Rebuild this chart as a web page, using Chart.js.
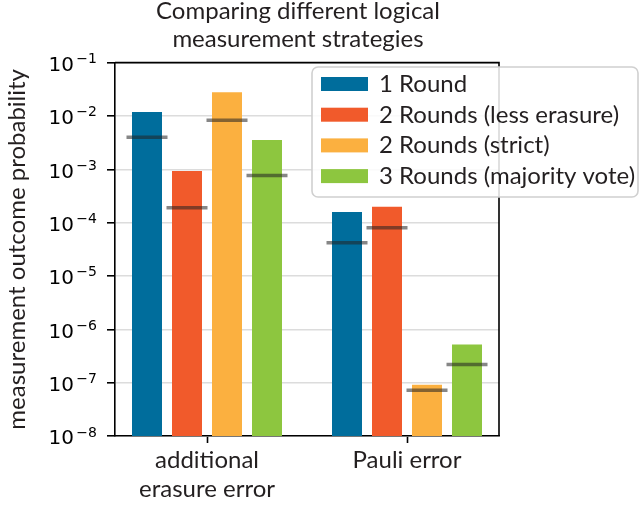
<!DOCTYPE html>
<html>
<head>
<meta charset="utf-8">
<script src="https://cdn.jsdelivr.net/npm/chart.js@4.4.1/dist/chart.umd.min.js"></script>
<style>
  html, body { margin: 0; padding: 0; background: #ffffff; }
  #wrap { width: 640px; height: 506px; }
</style>
</head>
<body>
<div id="wrap"><canvas id="c" width="640" height="506"></canvas></div>
<script>
// ---------------- data ----------------
const categories = [['additional', 'erasure error'], 'Pauli error'];
const seriesLabels = ['1 Round', '2 Rounds (less erasure)', '2 Rounds (strict)', '3 Rounds (majority vote)'];
const seriesColors = ['#006D9C', '#F15A2B', '#FBB040', '#8DC63F'];

// bar heights (measurement outcome probability)
const oneRound        = [1.19e-2, 1.59e-4];
const twoRoundsLess   = [9.3e-4, 1.98e-4];
const twoRoundsStrict = [2.8e-2, 9.1e-8];
const threeRounds     = [3.55e-3, 5.2e-7];

// grey horizontal reference markers
const oneRoundRef        = [4.0e-3, 4.2e-5];
const twoRoundsLessRef   = [1.9e-4, 8.0e-5];
const twoRoundsStrictRef = [8.3e-3, 7.2e-8];
const threeRoundsRef     = [7.7e-4, 2.2e-7];

const yTickExponents = [-8, -7, -6, -5, -4, -3, -2, -1];
const titleLines = ['Comparing different logical', 'measurement strategies'];
const yTitle = 'measurement outcome probability';

// ---------------- helpers ----------------
const seriesValues = [oneRound, twoRoundsLess, twoRoundsStrict, threeRounds];
const seriesRefs = [oneRoundRef, twoRoundsLessRef, twoRoundsStrictRef, threeRoundsRef];
const TEXT_FONT = 'Lato, "Open Sans", sans-serif';
const TEXT_COLOR = '#231F20';
const expText = e => (e < 0 ? '\u2212' : '') + Math.abs(e);

const markerPlugin = {
  id: 'refMarkers',
  afterDatasetsDraw(chart) {
    const ys = chart.scales.y, ctx = chart.ctx;
    ctx.save();
    ctx.strokeStyle = 'rgba(35,35,35,0.55)';
    ctx.lineWidth = 3.5;
    chart.data.datasets.forEach((ds, d) => {
      const meta = chart.getDatasetMeta(d);
      meta.data.forEach((bar, i) => {
        const y = ys.getPixelForValue(ds.refValues[i]);
        const half = bar.width / 2 + 5.5;
        ctx.beginPath();
        ctx.moveTo(bar.x - half, y);
        ctx.lineTo(bar.x + half, y);
        ctx.stroke();
      });
    });
    ctx.restore();
  }
};

// y tick labels as 10 with a raised exponent (mathtext style)
const logLabelPlugin = {
  id: 'logLabels',
  afterDraw(chart) {
    const ys = chart.scales.y, ctx = chart.ctx;
    const xr = ys.right - 18;
    ctx.save();
    ctx.fillStyle = '#000';
    ctx.textAlign = 'right';
    ctx.textBaseline = 'alphabetic';
    ys.ticks.forEach(t => {
      const e = Math.round(Math.log10(t.value));
      const y = ys.getPixelForValue(t.value);
      ctx.font = '14px "DejaVu Sans"';
      const ex = expText(e);
      const w = ctx.measureText(ex).width;
      ctx.fillText(ex, xr, y + 0.5);
      ctx.font = '20px "DejaVu Sans"';
      ctx.fillText('10', xr - w - 2.5, y + 8.2);
    });
    ctx.restore();
  }
};

const framePlugin = {
  id: 'frameAndLegend',
  afterLayout(chart) {
    const t = chart.titleBlock;
    if (t) { const w = t.right - t.left; const c = 298; t.left = c - w / 2; t.right = c + w / 2; }
  },
  afterDraw(chart) {
    const {ctx, chartArea: a} = chart;
    ctx.save();
    // top and right spines
    ctx.strokeStyle = '#000'; ctx.lineWidth = 1.6;
    ctx.beginPath();
    ctx.moveTo(a.left, a.top); ctx.lineTo(a.right, a.top); ctx.lineTo(a.right, a.bottom);
    ctx.stroke();
    // legend frame
    const lx = 312, ly = 67, lw = 326, lh = 130, r = 6;
    ctx.beginPath();
    ctx.roundRect(lx, ly, lw, lh, r);
    ctx.fillStyle = 'rgba(255,255,255,0.85)';
    ctx.fill();
    ctx.strokeStyle = '#d0d0d0'; ctx.lineWidth = 1.6;
    ctx.stroke();
    // legend items
    ctx.font = '24px ' + TEXT_FONT;
    ctx.textAlign = 'left'; ctx.textBaseline = 'alphabetic';
    chart.data.datasets.forEach((ds, d) => {
      const cy = 84 + d * 30.7;
      ctx.fillStyle = ds.backgroundColor;
      ctx.fillRect(321, cy - 7, 47, 14);
      ctx.fillStyle = TEXT_COLOR;
      ctx.fillText(ds.label, 379, cy + 8);
    });
    ctx.restore();
  }
};

new Chart(document.getElementById('c'), {
  type: 'bar',
  data: {
    labels: categories.map((_, i) => i),
    datasets: seriesValues.map((vals, d) => ({
      label: seriesLabels[d],
      data: vals,
      refValues: seriesRefs[d],
      backgroundColor: seriesColors[d],
      borderWidth: 0
    }))
  },
  options: {
    responsive: false,
    animation: false,
    devicePixelRatio: 1,
    layout: { padding: { left: 0, right: 141, top: 0, bottom: 0 } },
    datasets: { bar: { barPercentage: 0.75, categoryPercentage: 0.8 } },
    plugins: {
      legend: { display: false },
      tooltip: { enabled: false },
      title: {
        display: true,
        text: titleLines,
        fullSize: false,
        color: TEXT_COLOR,
        font: { family: TEXT_FONT, size: 24, weight: 'normal', lineHeight: 1.17 },
        padding: { top: -3, bottom: 9.5 }
      }
    },
    scales: {
      x: {
        type: 'linear',
        min: -0.46, max: 1.46,
        offset: false,
        afterBuildTicks: s => { s.ticks = categories.map((_, i) => ({ value: i })); },
        afterFit: s => { s.height = 70; },
        ticks: {
          callback: v => categories[v],
          color: TEXT_COLOR,
          font: { family: TEXT_FONT, size: 24 },
          padding: 3, maxRotation: 0, autoSkip: false
        },
        grid: { display: true, drawOnChartArea: false, drawTicks: true, tickLength: 7, tickColor: '#000', tickWidth: 1.6, offset: false },
        border: { display: true, color: '#000', width: 1.6 }
      },
      y: {
        type: 'logarithmic',
        min: 1e-8, max: 1e-1,
        afterBuildTicks: s => { s.ticks = yTickExponents.map(e => ({ value: Math.pow(10, e) })); },
        afterFit: s => { s.width = 115; },
        ticks: { display: false },
        grid: { color: '#dcdcdc', lineWidth: 1.6, tickLength: 8, tickColor: '#000', tickWidth: 1.6 },
        border: { display: true, color: '#000', width: 1.6 },
        title: {
          display: true, text: yTitle, color: TEXT_COLOR,
          font: { family: TEXT_FONT, size: 24 },
          padding: { top: 2.5, bottom: 0 }
        }
      }
    }
  },
  plugins: [markerPlugin, logLabelPlugin, framePlugin]
});
</script>
</body>
</html>
